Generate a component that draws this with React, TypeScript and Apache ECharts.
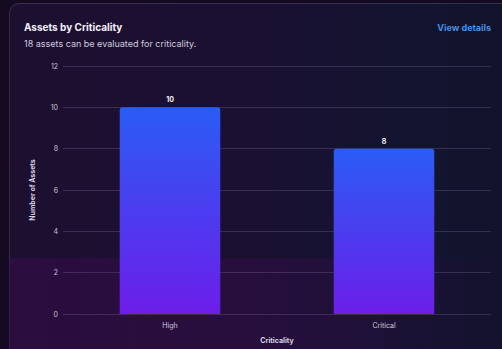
import React, { useEffect, useRef } from "react";
import * as echarts from "echarts";

const categories = ["High", "Critical"];
const assetCounts = [10, 8];
const yTicks = [0, 2, 4, 6, 8, 10, 12];

const titleText = "Assets by Criticality";
const subtitleText = "18 assets can be evaluated for criticality.";
const linkText = "View details";

export default function App() {
  const ref = useRef<HTMLDivElement>(null);
  useEffect(() => {
    if (!ref.current) return;
    const chart = echarts.init(ref.current, null, { renderer: "svg" });
    const font = "Inter, 'Noto Sans', sans-serif";
    chart.setOption({
      animation: false,
      backgroundColor: "transparent",
      textStyle: { fontFamily: font },
      title: {
        text: titleText,
        subtext: subtitleText,
        left: 24,
        top: 22,
        itemGap: 7,
        textStyle: { color: "#f2f0f7", fontSize: 10, fontWeight: "bold", fontFamily: font },
        subtextStyle: { color: "#d0ccdc", fontSize: 9, fontFamily: font },
        padding: 0,
      },
      graphic: [
        {
          type: "text",
          right: 11,
          top: 23,
          style: {
            text: linkText,
            fill: "#4a8fe0",
            font: `bold 9px ${font}`,
          },
        },
      ],
      grid: { left: 63, right: 11, top: 66, bottom: 34, containLabel: false },
      xAxis: {
        type: "category",
        data: categories,
        name: "Criticality",
        nameLocation: "middle",
        nameGap: 23,
        nameTextStyle: { color: "#d8d4e4", fontSize: 7, fontWeight: "bold" },
        axisLine: { show: false },
        axisTick: { show: false },
        axisLabel: { color: "#d0ccdc", fontSize: 7, margin: 8 },
      },
      yAxis: {
        type: "value",
        min: yTicks[0],
        max: yTicks[yTicks.length - 1],
        interval: 2,
        name: "Number of Assets",
        nameLocation: "middle",
        nameGap: 27,
        nameTextStyle: { color: "#d8d4e4", fontSize: 7, fontWeight: "bold" },
        axisLine: { show: false },
        axisTick: { show: false },
        axisLabel: { color: "#c8c4d4", fontSize: 7, margin: 5 },
        splitLine: { lineStyle: { color: "rgba(140,130,175,0.25)", width: 1 } },
      },
      series: [
        {
          type: "bar",
          data: assetCounts,
          barWidth: "47%",
          itemStyle: {
            borderRadius: [3, 3, 0, 0],
            color: new echarts.graphic.LinearGradient(0, 0, 0, 1, [
              { offset: 0, color: "#2a5cf6" },
              { offset: 1, color: "#6c1ee8" },
            ]),
          },
          label: {
            show: true,
            position: "top",
            distance: 4,
            color: "#f2f0f7",
            fontSize: 7,
            fontWeight: "bold",
          },
        },
      ],
    });
    return () => chart.dispose();
  }, []);

  return (
    <div
      style={{
        position: "fixed",
        left: 0,
        top: 0,
        width: 502,
        height: 349,
        overflow: "hidden",
        background: "#140a22",
      }}
    >
      <div
        style={{
          position: "absolute",
          left: 9,
          top: 3,
          width: 520,
          height: 380,
          borderRadius: 10,
          border: "1px solid rgba(90,80,120,0.45)",
          background:
            "linear-gradient(90deg, #1d0f30 0%, #1b1032 45%, #141430 75%, #10132a 100%)",
        }}
      />
      <div
        style={{
          position: "absolute",
          left: 9,
          top: 258,
          width: 520,
          height: 100,
          background:
            "linear-gradient(90deg, rgba(60,10,80,0.45) 0%, rgba(60,10,80,0.35) 50%, rgba(20,10,50,0.1) 100%)",
        }}
      />
      <div ref={ref} style={{ position: "absolute", left: 0, top: 0, width: 502, height: 349 }} />
    </div>
  );
}
